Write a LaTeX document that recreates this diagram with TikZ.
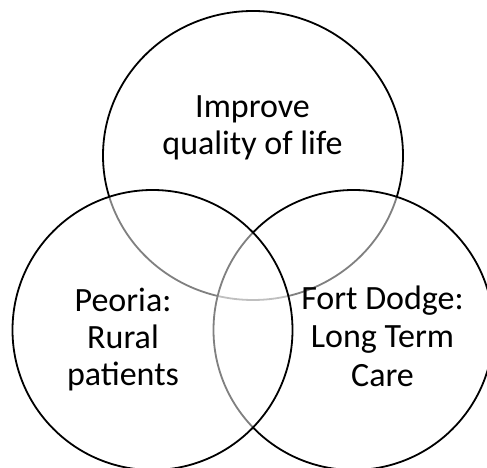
\documentclass[tikz,border=0pt]{standalone}
\usepackage{fontspec}
\setmainfont{Carlito}
\begin{document}
\begin{tikzpicture}[x=1pt,y=1pt,
  venn/.style={draw=black,line width=1.8pt,fill=white,fill opacity=0.5},
  lbl/.style={anchor=base,inner sep=0pt,font=\fontsize{34}{37}\selectfont}]
\useasboundingbox (0,0) rectangle (487,468);
\fill[white] (0,0) rectangle (487,468);
\begin{scope}
\clip (0,0) rectangle (487,468);
\path[venn] (253,312.5) ellipse [x radius=150, y radius=144.5];
\path[venn] (353.5,138) circle [radius=140];
\path[venn] (152.5,138) circle [radius=140];
\end{scope}
\node[lbl] (t1) at (252.5,350) {Improve};
\node[lbl] (t2) at (252.5,313) {quality of life};
\node[lbl] (l1) at (123,156.5) {Peoria:};
\node[lbl] (l2) at (123,119.5) {Rural};
\node[lbl] (l3) at (123,82) {patients};
\node[lbl] (r1) at (382.5,158) {Fort Dodge:};
\node[lbl] (r2) at (382.5,120) {Long Term};
\node[lbl] (r3) at (382.5,81.5) {Care};
\end{tikzpicture}
\end{document}
